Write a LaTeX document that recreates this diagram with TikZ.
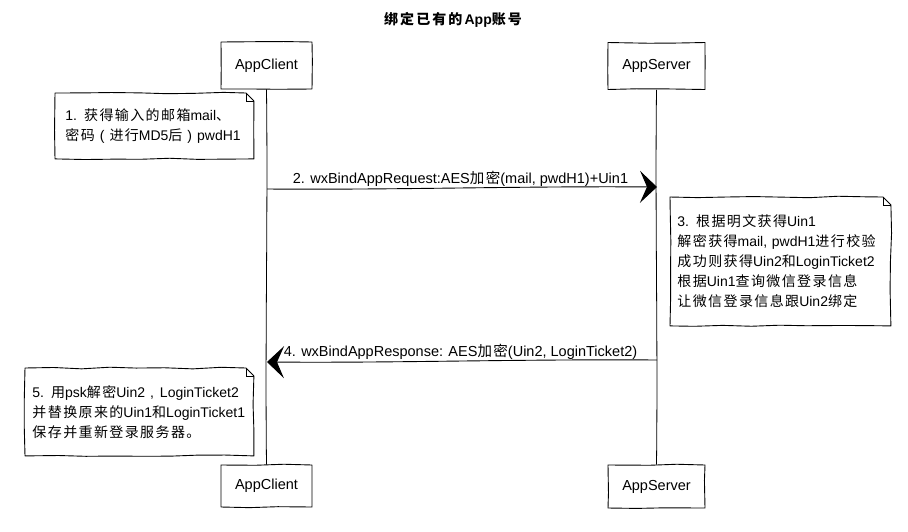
\documentclass[tikz,border=0pt]{standalone}
\usepackage{fontspec}
\setmainfont{Liberation Sans}
\newfontfamily\cjk{Noto Sans CJK SC}[LetterSpace=10]
\newfontfamily\cjkt{Noto Sans CJK SC}[LetterSpace=15]
\usetikzlibrary{arrows.meta,decorations.pathmorphing,calc}
\begin{document}
\begin{tikzpicture}[x=1pt,y=-1pt,
  font=\fontsize{14}{20}\selectfont,
  every path/.style={line width=0.9pt},
  sketch/.style={decorate,decoration={random steps,segment length=28pt,amplitude=0.9pt},line join=round},
  actor/.style={draw,sketch,inner sep=0pt,minimum height=47pt,font=\fontsize{14.5}{20}\selectfont},
  note/.style={inner ysep=0pt,align=left,anchor=north west},
  notebox/.style={sketch},
  fold/.style={line width=0.6pt},
  msg/.style={-{Stealth[length=17pt,width=32pt,inset=7pt]}},
  life/.style={line width=0.8pt},
  lbl/.style={midway,above,inner sep=0.6pt,font=\fontsize{14.5}{20}\selectfont}]
\pgfmathsetseed{11}
\useasboundingbox (0,0) rectangle (908,531);

% title
\node (title) at (453,20) {{\cjkt\bfseries 绑定已有的}\textbf{App}{\cjkt\bfseries 账号}};

% actors
\node[actor,minimum width=91pt] (cTop) at (266.5,65.5) {AppClient};
\node[actor,minimum width=97pt] (sTop) at (656.5,66) {AppServer};
\node[actor,minimum width=91pt,minimum height=42pt] (cBot) at (266.5,486) {AppClient};
\node[actor,minimum width=97pt,minimum height=43pt] (sBot) at (656.5,486.5) {AppServer};

% lifelines
\draw[life] (cTop.south) .. controls +(1.5,130) and +(-1.5,-130) .. (cBot.north);
\draw[life] (sTop.south) .. controls +(-1.5,130) and +(1.5,-130) .. (sBot.north);

% note 1
\node[note,inner xsep=10pt,text width=178pt,minimum height=65pt] (n1) at (55,93)
  {1. {\cjk 获得输入的邮箱}mail{\cjk 、}\\{\cjk 密码}\hspace{5pt}(\hspace{5pt}{\cjk 进行}MD5{\cjk 后}\hspace{5pt})\hspace{5pt}pwdH1};
\draw[notebox] (n1.north west) -- ($(n1.north east)+(-8,0)$) -- ($(n1.north east)+(0,8)$)
  -- (n1.south east) -- (n1.south west) -- cycle;
\draw[fold] ($(n1.north east)+(-8,0)$) -- ($(n1.north east)+(-8,8)$) -- ($(n1.north east)+(0,8)$);

% message 2
\coordinate (m2s) at (267,189);
\coordinate (m2e) at (657,187);
\draw[msg] (m2s) .. controls (400,190) and (520,186) .. (m2e) node[lbl,pos=0.5] {2. wxBindAppRequest:AES{\cjk 加密}(mail, pwdH1)+Uin1};

% note 3
\node[note,inner xsep=7pt,text width=206pt,minimum height=128pt] (n3) at (670,197)
  {3. {\cjk 根据明文获得}Uin1\\
   {\cjk 解密获得}mail, pwdH1{\cjk 进行校验}\\
   {\cjk 成功则获得}Uin2{\cjk 和}LoginTicket2\\
   {\cjk 根据}Uin1{\cjk 查询微信登录信息}\\
   {\cjk 让微信登录信息跟}Uin2{\cjk 绑定}};
\draw[notebox] (n3.north west) -- ($(n3.north east)+(-8,0)$) -- ($(n3.north east)+(0,8)$)
  -- (n3.south east) -- (n3.south west) -- cycle;
\draw[fold] ($(n3.north east)+(-8,0)$) -- ($(n3.north east)+(-8,8)$) -- ($(n3.north east)+(0,8)$);

% message 4
\coordinate (m4s) at (657,360);
\coordinate (m4e) at (267,362);
\draw[msg] (m4s) .. controls (520,359) and (400,363) .. (m4e) node[lbl,pos=0.5] {4. wxBindAppResponse: AES{\cjk 加密}(Uin2, LoginTicket2)};

% note 5
\node[note,inner xsep=7pt,text width=214pt,minimum height=87pt] (n5) at (25,368)
  {5. {\cjk 用}psk{\cjk 解密}Uin2\hspace{5pt},\hspace{6pt}LoginTicket2\\
   {\cjk 并替换原来的}Uin1{\cjk 和}LoginTicket1\\
   {\cjk 保存并重新登录服务器。}};
\draw[notebox] (n5.north west) -- ($(n5.north east)+(-8,0)$) -- ($(n5.north east)+(0,8)$)
  -- (n5.south east) -- (n5.south west) -- cycle;
\draw[fold] ($(n5.north east)+(-8,0)$) -- ($(n5.north east)+(-8,8)$) -- ($(n5.north east)+(0,8)$);
\end{tikzpicture}
\end{document}
